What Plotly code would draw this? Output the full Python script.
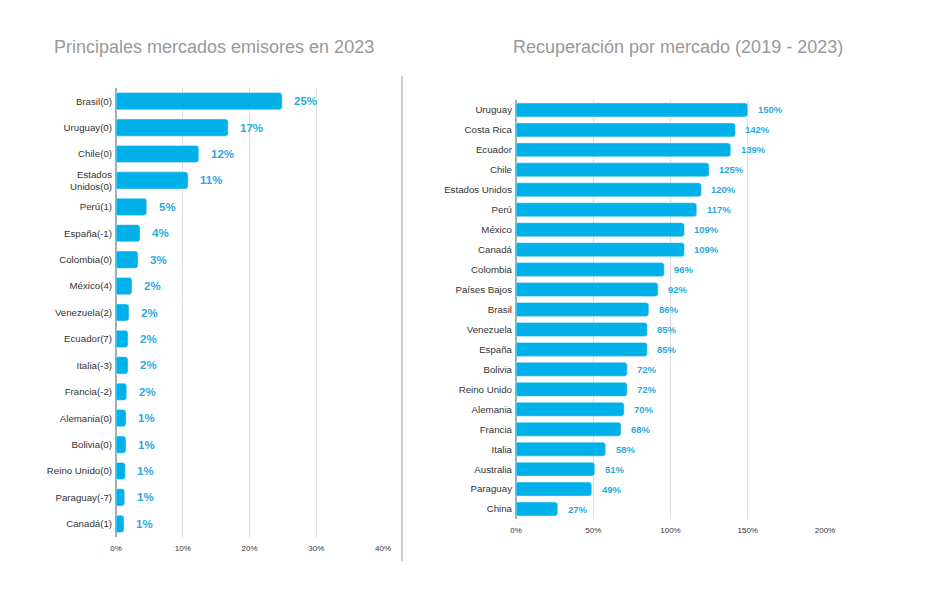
import plotly.graph_objects as go

W, H = 928, 602
OX, OY = 8, 8  # page body margin offset compensation

left_labels = ["Brasil(0)", "Uruguay(0)", "Chile(0)", "Estados<br>Unidos(0)", "Perú(1)", "España(-1)",
               "Colombia(0)", "México(4)", "Venezuela(2)", "Ecuador(7)", "Italia(-3)", "Francia(-2)",
               "Alemania(0)", "Bolivia(0)", "Reino Unido(0)", "Paraguay(-7)", "Canadá(1)"]
left_values = [24.9, 16.8, 12.4, 10.8, 4.6, 3.6, 3.3, 2.4, 1.95, 1.8, 1.8, 1.6, 1.5, 1.5, 1.4, 1.3, 1.2]
left_text = ["25%", "17%", "12%", "11%", "5%", "4%", "3%", "2%", "2%", "2%", "2%", "2%",
             "1%", "1%", "1%", "1%", "1%"]

right_labels = ["Uruguay", "Costa Rica", "Ecuador", "Chile", "Estados Unidos", "Perú", "México", "Canadá",
                "Colombia", "Países Bajos", "Brasil", "Venezuela", "España", "Bolivia", "Reino Unido",
                "Alemania", "Francia", "Italia", "Australia", "Paraguay", "China"]
right_values = [150, 142, 139, 125, 120, 117, 109, 109, 96, 92, 86, 85, 85, 72, 72, 70, 68, 58, 51, 49, 27]

left_ticks = [0, 10, 20, 30, 40]
right_ticks = [0, 50, 100, 150, 200]

BAR = "#00b0e8"
TXT = "#2aa9df"
FONT = "Arial, Liberation Sans"


def px(x):
    return (x - OX) / W


def py(y):
    return 1 - (y - OY) / H


fig = go.Figure()
fig.add_trace(go.Bar(y=left_labels, x=left_values, orientation="h", marker=dict(color=BAR, cornerradius=3),
                     width=0.65, xaxis="x", yaxis="y", hoverinfo="skip"))
fig.add_trace(go.Bar(y=right_labels, x=right_values, orientation="h", marker=dict(color=BAR, cornerradius=3),
                     width=0.7, xaxis="x2", yaxis="y2", hoverinfo="skip"))

annotations = []
for lab, v, t in zip(left_labels, left_values, left_text):
    annotations.append(dict(x=v, y=lab, xref="x", yref="y", text=t, showarrow=False, xanchor="left",
                            xshift=10, font=dict(family=FONT, size=11.5, color=TXT, weight="bold")))
for lab, v in zip(right_labels, right_values):
    annotations.append(dict(x=v, y=lab, xref="x2", yref="y2", text=f"{v}%", showarrow=False, xanchor="left",
                            xshift=8, font=dict(family=FONT, size=9.5, color=TXT, weight="bold")))

annotations.append(dict(x=px(214), y=py(47), xref="paper", yref="paper", text="Principales mercados emisores en 2023",
                        showarrow=False, xanchor="center", yanchor="middle",
                        font=dict(family=FONT, size=18, color="#999999")))
annotations.append(dict(x=px(678), y=py(47), xref="paper", yref="paper", text="Recuperación por mercado (2019 - 2023)",
                        showarrow=False, xanchor="center", yanchor="middle",
                        font=dict(family=FONT, size=18, color="#999999")))

axis_common = dict(showgrid=True, gridcolor="#dddddd", gridwidth=1, zeroline=True, zerolinecolor="#aaaaaa",
                   zerolinewidth=2, showline=False, ticks="", fixedrange=True, automargin=False,
                   ticklabelstandoff=5)

fig.update_layout(
    width=W, height=H, autosize=False, margin=dict(l=0, r=0, t=0, b=0, pad=0, autoexpand=False),
    paper_bgcolor="white", plot_bgcolor="white", showlegend=False,
    font=dict(family=FONT, color="#333333"),
    xaxis=dict(domain=[px(116), px(383)], range=[0, 40], tickvals=left_ticks,
               ticktext=[f"{t}%" for t in left_ticks], tickfont=dict(size=8, color="#333333"), **axis_common),
    yaxis=dict(domain=[py(537), py(88)], autorange="reversed", tickfont=dict(size=9.7, color="#333333"),
               ticks="", showgrid=False, ticklabelstandoff=3, automargin=False, fixedrange=True),
    xaxis2=dict(domain=[px(516), px(825)], range=[0, 200], tickvals=right_ticks,
                ticktext=[f"{t}%" for t in right_ticks], tickfont=dict(size=8, color="#333333"),
                anchor="y2", **axis_common),
    yaxis2=dict(domain=[py(519), py(100)], autorange="reversed", tickfont=dict(size=9.7, color="#333333"),
                ticks="", showgrid=False, anchor="x2", ticklabelstandoff=3, automargin=False, fixedrange=True),
    annotations=annotations,
    shapes=[dict(type="line", xref="paper", yref="paper", x0=px(402), x1=px(402), y0=py(561), y1=py(76),
                 line=dict(color="#999999", width=1))],
    bargap=0.3,
)

fig.write_html("out.html")
